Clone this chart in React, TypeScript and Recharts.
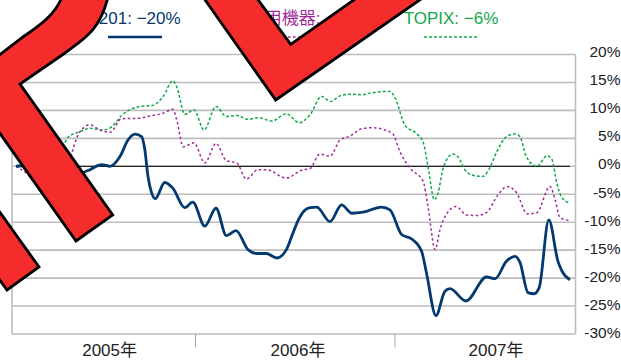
import { LineChart, Line, XAxis, YAxis, CartesianGrid, ReferenceLine } from 'recharts';

const W = 621;
const H = 362;

// x is a session count from the left edge of the plot, about 250 to a year
const domainEnd = 704.4;
const yearStartDays = [229.4, 478.75];
const yearLabelDays = [122, 357.5, 605];
const yearLabels = ['2005年', '2006年', '2007年'];
const yTicks = [20, 15, 10, 5, 0, -5, -10, -15, -20, -25, -30];

const stockDays = [5, 12.5, 25, 35, 50, 67.5, 80, 89, 97.5, 112, 122.5, 135, 145, 154, 162, 166, 170, 174, 179, 191, 201, 216, 226, 241, 255, 268, 280, 295, 306, 318, 331, 343, 350, 358, 365, 372.5, 381, 397.5, 412, 425, 439, 462, 472.5, 487, 499.6, 512, 518, 530, 541, 547.5, 567.5, 593, 604, 618, 629, 635, 645, 652.5, 659, 671, 682.5, 687, 697.5];
const stockValues = [0, 0.1, -1.5, -3.5, -4, -4, -3, -1.2, -0.6, 0.3, 0, 1.75, 4.7, 5.75, 5.3, 3, -1.8, -4.5, -5.8, -2.9, -3.9, -7.4, -6.4, -10.7, -7.5, -12.4, -11.5, -14.9, -15.6, -15.6, -16.4, -14.9, -12.4, -9.6, -8, -7.4, -7.3, -9.9, -6.9, -8.4, -8.2, -7.3, -7.8, -12.2, -13, -15.2, -19, -26.7, -22.4, -21.9, -24.1, -19.8, -20.1, -17, -16.1, -17.2, -22.6, -22.8, -21.7, -9.6, -17, -18.6, -20.3];

const sectorDays = [5, 20, 32.5, 45, 55, 70, 75, 85, 97.5, 110, 122.5, 137, 160, 172.5, 189, 201, 206, 214, 227.5, 241, 255, 268, 281, 293, 307.5, 318, 343, 362, 372.5, 385, 397.5, 410, 422.5, 437, 451, 466, 476, 485, 498, 514, 520, 529, 535, 542.5, 555, 568, 581, 593, 607.5, 619, 631, 644, 656, 672.5, 679, 685, 697.5];
const sectorValues = [0, -1.5, -3.7, -4.5, -3, -0.5, 2.4, 6.2, 7.4, 6.5, 6.1, 8.5, 8.6, 9, 9.5, 10.2, 8.3, 3.5, 4.2, 0.6, 4.1, 1, 0.6, -2.3, -0.6, -0.6, -2.1, -0.7, -0.4, 2.2, 1.8, 4.7, 5.4, 6.7, 6.9, 6.5, 5.8, 2.6, -0.4, -2.7, -7.2, -14.9, -11.3, -8.7, -7.2, -8.7, -8.8, -8.3, -5.1, -3.6, -4.8, -8.5, -8.3, -3.6, -6, -9.2, -9.7];

const topixDays = [5, 30, 64, 70, 85, 97.5, 114, 125, 137, 160, 176, 189, 201, 206, 216, 227.5, 240, 255, 268, 281, 295, 307.5, 325, 343, 359, 372.5, 387, 398, 410, 422.5, 437, 451, 472.5, 479, 491, 506, 514, 520, 528, 532.5, 539, 551, 557.5, 566, 576, 589, 596, 606, 618, 629, 635, 643, 656, 669, 675, 681, 687, 697.5];
const topixValues = [0, 2, 3.8, 5.2, 6.2, 6.8, 6.5, 7.1, 9.1, 10.7, 10.9, 12.5, 15.3, 14.2, 9.3, 10.1, 6.5, 10.7, 8.9, 9.1, 8.4, 8.7, 8.1, 9.4, 7.8, 9.2, 12.5, 11.6, 12.6, 12.9, 12.8, 13.2, 13.4, 12.2, 7.4, 5.8, 4.3, 0, -6, -4.8, -0.3, 2.2, 1.7, -0.6, -1.6, -1.8, -0.6, 2.6, 5.3, 5.8, 5.3, 1.7, 0, 1.9, 1.2, -3, -5.5, -6.6];

const legendLabels = ['7201: −20%', '輸送用機器: −10%', 'TOPIX: −6%'];
const legendColors = ['#04396f', '#a02a9a', '#14a84c'];

const zip = (days: number[], values: number[]) => days.map((day, i) => ({ day, v: values[i] }));

const FONT = '"Liberation Sans", "Noto Sans CJK JP", sans-serif';

function YTick({ y, payload }: any) {
  return (
    <text x={W - 0.5} y={y + (payload.value < 0 ? -1.5 : -3)} dy={5.5} textAnchor="end" fontSize={15.5} fontFamily={FONT} fill="#222">
      {payload.value}%
    </text>
  );
}

function XTick({ x, y, index }: any) {
  return (
    <text x={x} y={y} dy={14} textAnchor="middle" fontSize={17} fontFamily={FONT} fill="#222">
      {yearLabels[index]}
    </text>
  );
}

// the red strokes lying over the chart, and the legend they partly hide
function Overlay() {
  const centers = [135, 300, 451];
  const dashes = [undefined, '2.5 2.5', '3 2'];
  return (
    <svg width={W} height={H} style={{ position: 'absolute', left: 0, top: 0 }}>
      {legendLabels.map((label, i) => (
        <g key={label}>
          <text x={centers[i]} y={24} textAnchor="middle" fontSize={17} fontFamily={FONT} fill={legendColors[i]}>
            {label}
          </text>
          <line
            x1={centers[i] - 27}
            x2={centers[i] + 27}
            y1={37}
            y2={37}
            stroke={legendColors[i]}
            strokeWidth={i === 0 ? 2.6 : 1.4}
            strokeDasharray={dashes[i]}
          />
        </g>
      ))}
      <g fill="#f42c2c" stroke="#000" strokeWidth={2.8} strokeLinejoin="miter">
        <path d="M108,-3 C100,30 85,38 65,53 L20,84 L112.7,215 L76,241 L-6,125 L-6,59 L23,37 C40,25 55,15 62,-3 Z" />
        <path d="M-6,204 L39,267 L7,290 L-6,272 Z" />
        <path d="M203,-3 L275.7,100 L424,-3 L358,-3 L290.7,44.3 L256,-3 Z" />
      </g>
    </svg>
  );
}

export default function App() {
  return (
    <div style={{ position: 'relative', width: W, height: H, background: '#fff' }}>
      <style>{`body{margin:0}`}</style>
      <LineChart width={W} height={H} margin={{ top: 54.5, right: 0, left: 12, bottom: 0 }}>
        <CartesianGrid horizontal vertical={false} stroke="#bdbdbd" strokeWidth={1.6} />
        <XAxis
          dataKey="day"
          type="number"
          domain={[0, domainEnd]}
          ticks={yearLabelDays}
          tick={<XTick />}
          tickLine={false}
          axisLine={false}
          height={28}
          allowDataOverflow
        />
        <YAxis
          orientation="right"
          type="number"
          domain={[-30, 20]}
          ticks={yTicks}
          interval={0}
          tick={<YTick />}
          tickLine={false}
          axisLine={{ stroke: '#bdbdbd', strokeWidth: 1.6 }}
          width={45.5}
        />
        <ReferenceLine x={0} stroke="#bdbdbd" strokeWidth={1.6} ifOverflow="visible" />
        {yearStartDays.map((d) => (
          <ReferenceLine
            key={d}
            segment={[{ x: d, y: -30 }, { x: d, y: -32.4 }]}
            stroke="#a6a6a6"
            strokeWidth={1}
            ifOverflow="visible"
          />
        ))}
        <ReferenceLine segment={[{ x: 5, y: 0 }, { x: 697.5, y: 0 }]} stroke="#222" strokeWidth={1.3} />
        <Line data={zip(topixDays, topixValues)} dataKey="v" name="TOPIX" type="monotone" stroke={legendColors[2]} strokeWidth={1.5} strokeDasharray="3 2" dot={false} isAnimationActive={false} />
        <Line data={zip(sectorDays, sectorValues)} dataKey="v" name="輸送用機器" type="monotone" stroke={legendColors[1]} strokeWidth={1.5} strokeDasharray="2.5 2.5" dot={false} isAnimationActive={false} />
        <Line data={zip(stockDays, stockValues)} dataKey="v" name="7201" type="monotone" stroke={legendColors[0]} strokeWidth={2.8} dot={false} isAnimationActive={false} />
      </LineChart>
      <Overlay />
    </div>
  );
}
